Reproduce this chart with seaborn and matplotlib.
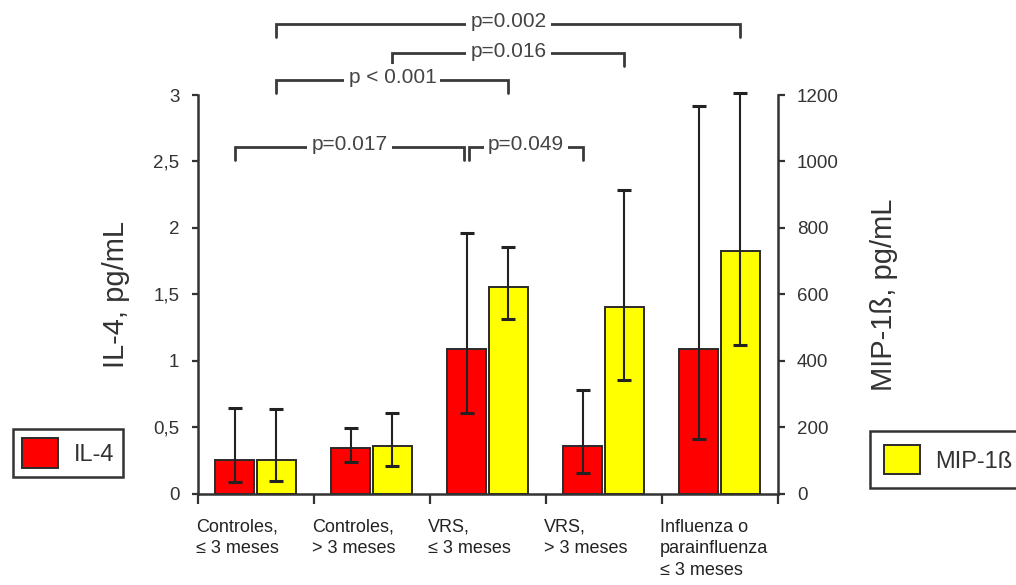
import numpy as np
import pandas as pd
import matplotlib
matplotlib.use("Agg")
import matplotlib.pyplot as plt
import seaborn as sns

# ---- data -------------------------------------------------------------
groups = [
    "Controles,\n≤ 3 meses",
    "Controles,\n> 3 meses",
    "VRS,\n≤ 3 meses",
    "VRS,\n> 3 meses",
    "Influenza o\nparainfluenza\n≤ 3 meses",
]
markers = ["IL-4", "MIP-1ß"]

il4_mean = [0.255, 0.345, 1.09, 0.36, 1.09]
il4_low = [0.09, 0.24, 0.61, 0.16, 0.41]
il4_high = [0.65, 0.495, 1.96, 0.78, 2.92]

mip_mean = [102, 144, 624, 561, 732]
mip_low = [39, 84, 525, 342, 447]
mip_high = [255, 243, 744, 915, 1205]

il4_ticks = [0, 0.5, 1, 1.5, 2, 2.5, 3]
il4_ticklabels = ["0", "0,5", "1", "1,5", "2", "2,5", "3"]
mip_ticks = [0, 200, 400, 600, 800, 1000, 1200]
mip_ticklabels = ["0", "200", "400", "600", "800", "1000", "1200"]

# significance brackets: text, left end (group, marker), right end (group, marker)
brackets = [
    ("p=0.002", (0, "MIP-1ß"), (4, "MIP-1ß")),
    ("p=0.016", (1, "MIP-1ß"), (3, "MIP-1ß")),
    ("p < 0.001", (0, "MIP-1ß"), (2, "MIP-1ß")),
    ("p=0.017", (0, "IL-4"), (2, "IL-4")),
    ("p=0.049", (2, "IL-4"), (3, "IL-4")),
]
bracket_levels = [1.178, 1.105, 1.038, 0.870, 0.870]  # axes fraction

df = pd.DataFrame({
    "grupo": groups * 2,
    "marcador": [markers[0]] * len(groups) + [markers[1]] * len(groups),
    "valor": il4_mean + mip_mean,
})

# ---- style ------------------------------------------------------------
sns.set_style("white")
plt.rcParams["font.family"] = ["Liberation Sans", "DejaVu Sans"]
ink = "#333333"
palette = {"IL-4": "#ff0000", "MIP-1ß": "#ffff00"}

fig = plt.figure(figsize=(10.16, 5.85), dpi=100)
ax1 = fig.add_axes([0.1944, 0.1556, 0.5709, 0.682])
ax2 = ax1.twinx()

for ax, m in ((ax1, "IL-4"), (ax2, "MIP-1ß")):
    sns.barplot(
        data=df[df["marcador"] == m], x="grupo", y="valor",
        hue="marcador", hue_order=markers, order=groups, palette=palette,
        saturation=1, dodge=True, width=0.72, gap=0.08, errorbar=None,
        legend=False, edgecolor="#2b2b2b", linewidth=1.4, ax=ax,
    )

def bar_centres(ax):
    return [p.get_x() + p.get_width() / 2 for p in ax.patches]

x_il4 = bar_centres(ax1)
x_mip = bar_centres(ax2)

err_style = dict(fmt="none", ecolor="#222222", elinewidth=1.5,
                 capsize=5, capthick=2.2, zorder=4)
eb1 = ax1.errorbar(x_il4, il4_mean,
                   yerr=[np.subtract(il4_mean, il4_low), np.subtract(il4_high, il4_mean)],
                   **err_style)
eb2 = ax2.errorbar(x_mip, mip_mean,
                   yerr=[np.subtract(mip_mean, mip_low), np.subtract(mip_high, mip_mean)],
                   **err_style)
for eb in (eb1, eb2):
    for art in eb.get_children():
        art.set_clip_on(False)

# ---- axes -------------------------------------------------------------
n = len(groups)
ax1.set_xlim(-0.5, n - 0.5)
ax1.set_ylim(0, 3)
ax2.set_ylim(0, 1200)
ax1.set_xlabel("")
ax2.set_xlabel("")

ax1.set_xticks(np.arange(-0.5, n, 1.0))
ax1.set_xticklabels([])
ax1.set_yticks(il4_ticks, il4_ticklabels)
ax2.set_yticks(mip_ticks, mip_ticklabels)

for ax in (ax1, ax2):
    for s in ax.spines.values():
        s.set_visible(False)
        s.set_color(ink)
        s.set_linewidth(1.8)
ax1.spines["left"].set_visible(True)
ax1.spines["bottom"].set_visible(True)
ax2.spines["right"].set_visible(True)

ax1.tick_params(axis="x", direction="out", length=7, width=1.6, color=ink, bottom=True)
ax1.tick_params(axis="y", direction="out", length=4, width=1.6, color=ink,
                labelsize=13.5, labelcolor=ink, pad=9, left=True)
ax2.tick_params(axis="y", direction="out", length=5, width=1.6, color=ink,
                labelsize=13.5, labelcolor=ink, pad=9, right=True)

ax1.set_ylabel("IL-4, pg/mL", fontsize=21, color=ink)
ax1.yaxis.set_label_coords(-0.116, 0.5)
ax2.set_ylabel("MIP-1ß, pg/mL", fontsize=21, color=ink)
ax2.yaxis.set_label_coords(1.1595, 0.5)

# category labels, left-aligned under each group
xtr = ax1.get_xaxis_transform()
for i, g in enumerate(groups):
    ax1.annotate(g, xy=(i - 0.5, 0), xycoords=xtr, xytext=(-1, -18),
                 textcoords="offset points", ha="left", va="top",
                 fontsize=13, color="#222222", linespacing=1.33,
                 annotation_clip=False)

# ---- significance brackets -------------------------------------------
centres = {"IL-4": x_il4, "MIP-1ß": x_mip}
ends = [[centres[a[1]][a[0]], centres[b[1]][b[0]]] for _, a, b in brackets]
for i in range(len(brackets)):
    for j in range(len(brackets)):
        if i != j and bracket_levels[i] == bracket_levels[j] and ends[i][1] == ends[j][0]:
            ends[i][1] -= 0.022
            ends[j][0] += 0.022

drop = 0.032
for (label, _, _), (xa, xb), lvl in zip(brackets, ends, bracket_levels):
    ax1.plot([xa, xa, xb, xb], [lvl - drop, lvl, lvl, lvl - drop],
             transform=xtr, color="#3a3a3a", lw=2.0, clip_on=False,
             solid_joinstyle="miter", zorder=5)
    ax1.annotate(label, xy=((xa + xb) / 2, lvl), xycoords=xtr,
                 xytext=(0, 1.5), textcoords="offset points",
                 ha="center", va="center", fontsize=15, color="#444444",
                 bbox=dict(boxstyle="square,pad=0.2", fc="white", ec="none"),
                 zorder=6, annotation_clip=False)

# ---- legends ----------------------------------------------------------
leg_kw = dict(loc="upper left", borderaxespad=0, fontsize=17,
              handlelength=1.52, handleheight=1.52, handletextpad=0.64,
              fancybox=False, shadow=False,
              framealpha=1, edgecolor=ink, labelcolor=ink)
leg1 = fig.legend([ax1.patches[0]], ["IL-4"], borderpad=0.4,
                  bbox_to_anchor=(13 / 1016, 1 - 429 / 585), **leg_kw)
leg2 = fig.legend([ax2.patches[0]], ["MIP-1ß"], borderpad=0.6,
                  bbox_to_anchor=(870 / 1016, 1 - 431 / 585), **leg_kw)
for leg in (leg1, leg2):
    leg.get_frame().set_linewidth(1.8)

fig.savefig("out.png", dpi=100)
